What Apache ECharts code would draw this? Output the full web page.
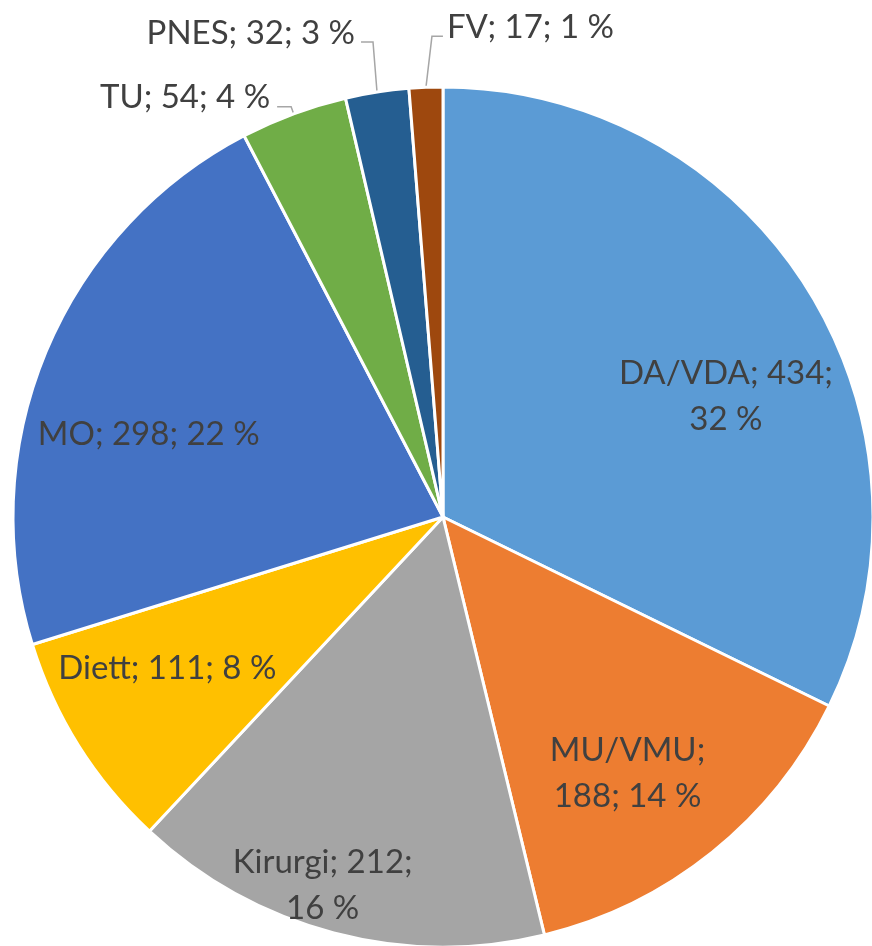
<!DOCTYPE html>
<html>
<head>
<meta charset="utf-8">
<script src="https://cdn.jsdelivr.net/npm/echarts@6/dist/echarts.min.js"></script>
<style>
  html, body { margin: 0; padding: 0; background: #fff; }
  #main { width: 872px; height: 946px; }
</style>
</head>
<body>
<div id="main"></div>
<script>
// data
var names = ['DA/VDA', 'MU/VMU', 'Kirurgi', 'Diett', 'MO', 'TU', 'PNES', 'FV'];
var values = [434, 188, 212, 111, 298, 54, 32, 17];
var pctLabels = [32, 14, 16, 8, 22, 4, 3, 1];
// where the label wraps: 0 none, 1 after name, 2 after value
var wrapAt = [2, 1, 2, 0, 0, 0, 0, 0];
var colors = ['#5B9BD5', '#ED7D31', '#A5A5A5', '#FFC000', '#4472C4', '#70AD47', '#255E91', '#9E480E'];

// label placement tweaks
var innerShift = { 0: [98, -5], 1: [48, 86], 2: [-65, 158], 3: [-91, 36], 4: [-93, 1] };
// [bendDx, bendDy, runDx, textGapDx, textDy]
var outerShift = { 5: [-2.5, -7, -14, -7, -9], 6: [-4, -50, -12, -6, -9], 7: [6, -51, 11, 4, -9] };

function labelText(i) {
    var parts = [names[i] + ';', values[i] + ';', pctLabels[i] + ' %'];
    if (wrapAt[i] === 1) return parts[0] + '\n' + parts[1] + ' ' + parts[2];
    if (wrapAt[i] === 2) return parts[0] + ' ' + parts[1] + '\n' + parts[2];
    return parts.join(' ');
}

function drawP() {
    var myChart = echarts.init(document.getElementById('main'));

    var data = names.map(function (n, i) {
        var item = { name: n, value: values[i], itemStyle: { color: colors[i] } };
        if (outerShift[i]) {
            item.label = { position: 'outside' };
            item.labelLine = { show: true, length: 10, length2: 10 };
        } else {
            item.label = { position: 'inside' };
            item.labelLine = { show: false };
        }
        return item;
    });

    var option = {
        animation: false,
        series: [
            {
                type: 'pie',
                center: [443, 517],
                radius: [0, 430],
                startAngle: 90,
                clockwise: true,
                avoidLabelOverlap: false,
                itemStyle: { borderColor: '#ffffff', borderWidth: 3 },
                label: {
                    show: true,
                    fontFamily: 'Lato',
                    fontSize: 33,
                    lineHeight: 46,
                    color: '#404040',
                    formatter: function (p) { return labelText(p.dataIndex); }
                },
                labelLine: { lineStyle: { color: '#A6A6A6', width: 1.5 } },
                labelLayout: function (p) {
                    var i = p.dataIndex;
                    if (innerShift[i]) {
                        return { dx: innerShift[i][0], dy: innerShift[i][1] };
                    }
                    var o = outerShift[i];
                    if (!o || !p.labelLinePoints) return {};
                    var p0 = p.labelLinePoints[0];
                    var p1 = [p0[0] + o[0], p0[1] + o[1]];
                    var p2 = [p1[0] + o[2], p1[1]];
                    return {
                        x: p2[0] + o[3],
                        y: p2[1] + o[4],
                        align: o[2] < 0 ? 'right' : 'left',
                        verticalAlign: 'middle',
                        labelLinePoints: [p0, p1, p2]
                    };
                },
                data: data
            }
        ]
    };

    myChart.setOption(option);
}

drawP();
</script>
</body>
</html>
